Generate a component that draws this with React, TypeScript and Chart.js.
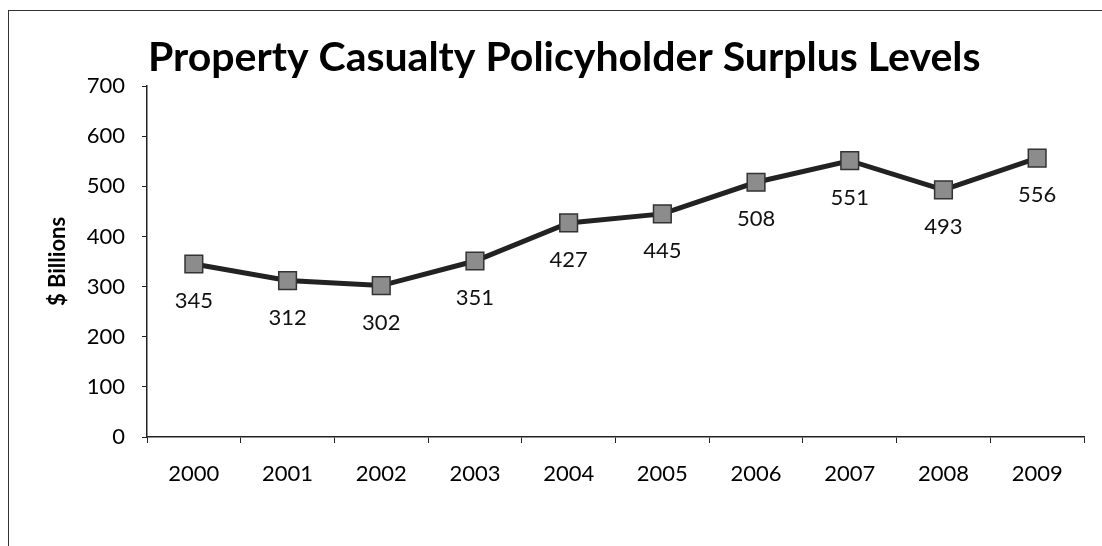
import React, { useEffect, useRef } from "react";
import { Chart, registerables } from "chart.js";

Chart.register(...registerables);

const years = ["2000", "2001", "2002", "2003", "2004", "2005", "2006", "2007", "2008", "2009"];
const surplus = [345, 312, 302, 351, 427, 445, 508, 551, 493, 556];
const chartTitle = "Property Casualty Policyholder Surplus Levels";
const yAxisTitle = "$ Billions";

const FONT = "Lato, 'Open Sans', sans-serif";

const valueLabels = {
  id: "valueLabels",
  afterDatasetsDraw(chart: any) {
    const ctx = chart.ctx;
    const meta = chart.getDatasetMeta(0);
    const data = chart.data.datasets[0].data;
    ctx.save();
    ctx.font = `22px ${FONT}`;
    ctx.fillStyle = "#111";
    ctx.textAlign = "center";
    ctx.textBaseline = "middle";
    meta.data.forEach((el: any, i: number) => {
      ctx.fillText(String(data[i]), el.x, el.y + 37);
    });
    ctx.restore();
  },
};

export default function App() {
  const ref = useRef<HTMLCanvasElement | null>(null);
  useEffect(() => {
    if (!ref.current) return;
    const chart = new Chart(ref.current, {
      type: "line",
      data: {
        labels: years,
        datasets: [
          {
            data: surplus,
            borderColor: "#222",
            borderWidth: 5,
            pointStyle: "rect",
            pointRadius: 12.5,
            pointBackgroundColor: "#8c8c8c",
            pointBorderColor: "#333",
            pointBorderWidth: 1.5,
            tension: 0,
          },
        ],
      },
      options: {
        animation: false,
        responsive: false,
        events: [],
        layout: { padding: { left: 35.4, right: 18, top: 0, bottom: 0 } },
        plugins: {
          legend: { display: false },
          tooltip: { enabled: false },
          title: {
            display: true,
            text: chartTitle,
            color: "#000",
            font: { family: FONT, size: 41, weight: "bold", lineHeight: 1.2 },
            padding: { top: 22.4, bottom: 3.4 },
          },
        },
        scales: {
          x: {
            offset: true,
            grid: { display: true, offset: true, drawOnChartArea: false, drawTicks: true, tickLength: 6, color: "#222" },
            border: { display: true, color: "#222", width: 1.5 },
            ticks: { color: "#000", padding: 18, font: { family: FONT, size: 22 }, maxRotation: 0 },
            afterFit: (s: any) => {
              s.height = 109;
            },
          },
          y: {
            min: 0,
            max: 700,
            grid: { display: true, drawOnChartArea: false, drawTicks: true, tickLength: 5, color: "#222" },
            border: { display: true, color: "#222", width: 1.5 },
            ticks: { stepSize: 100, color: "#000", padding: 17, font: { family: FONT, size: 22 } },
            title: {
              display: true,
              text: yAxisTitle,
              color: "#000",
              padding: { top: 0, bottom: 0 },
              font: { family: FONT, size: 22, weight: "bold", lineHeight: 1.2 },
            },
            afterFit: (s: any) => {
              s.width = 102.6;
            },
          },
        },
      },
      plugins: [valueLabels],
    });
    return () => chart.destroy();
  }, []);

  return (
    <div
      style={{
        position: "absolute",
        left: 8,
        top: 10,
        width: 1094,
        height: 536,
        boxSizing: "border-box",
        borderLeft: "1px solid #333",
        borderTop: "1px solid #333",
        background: "#fff",
      }}
    >
      <canvas ref={ref} width={1093} height={535} style={{ display: "block" }} />
    </div>
  );
}
